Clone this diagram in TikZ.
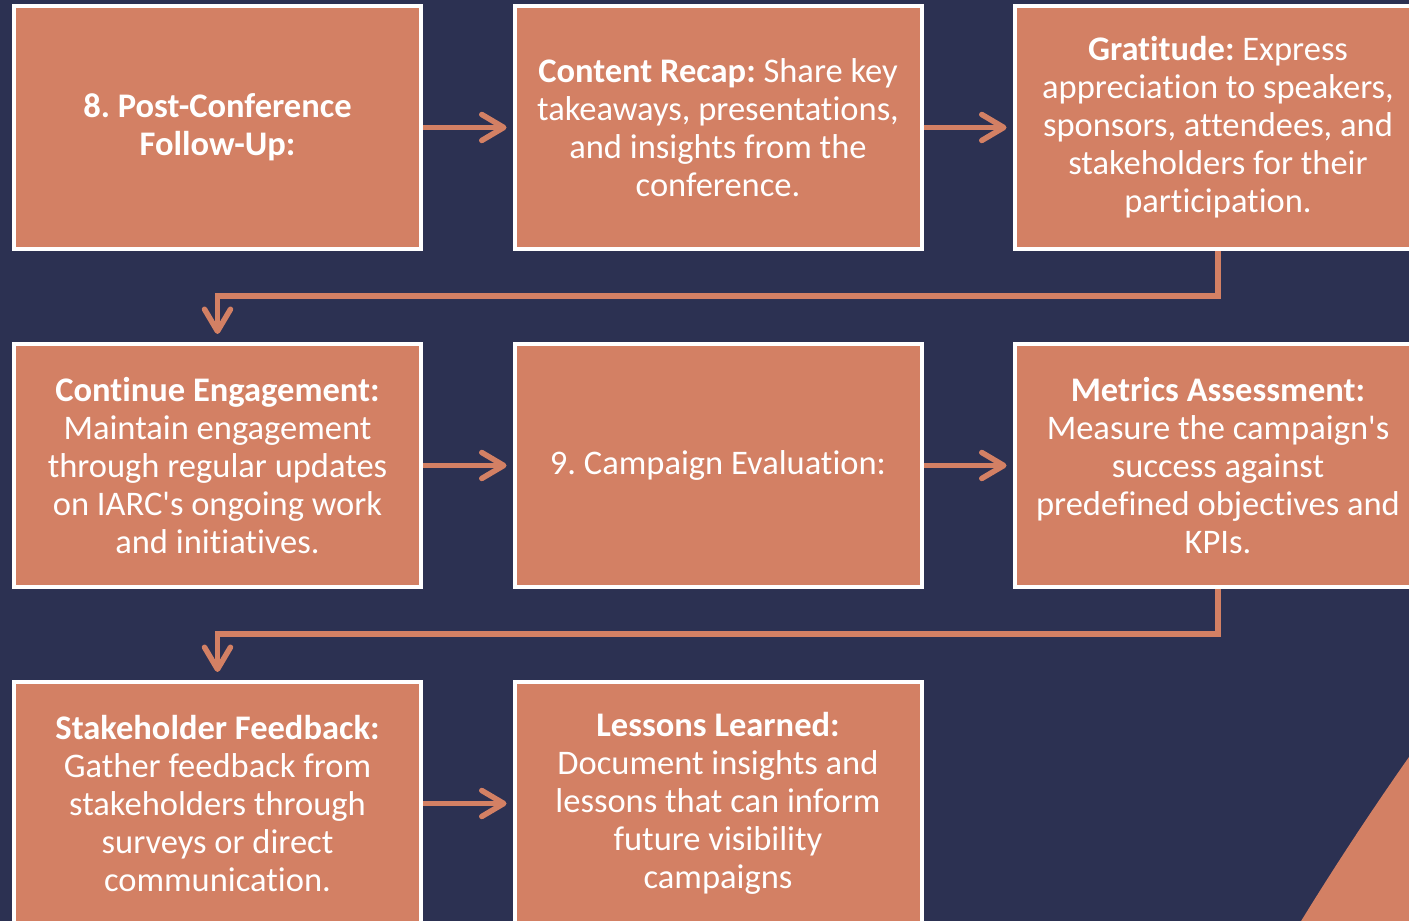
\documentclass[tikz,border=0pt]{standalone}
\usepackage{fontspec}
\defaultfontfeatures[\rmfamily]{}
\setmainfont{Carlito}[RawFeature={-liga;-clig;-rlig;-dlig;-calt;-ccmp}]
\usepackage{tikz}
\usetikzlibrary{arrows.meta,%
                shapes,positioning}
\frenchspacing
\definecolor{navy}{HTML}{2C3152}
\definecolor{clay}{HTML}{D38064}
\tikzstyle{stepbox}=[rectangle,draw=white,line width=4bp,fill=clay,text=white,
  minimum width=407bp,minimum height=243bp,align=center,
  font=\fontsize{34.5bp}{38bp}\selectfont]
\tikzstyle{link}=[draw=clay,line width=5.5bp,
  -{Straight Barb[length=22bp,width=26bp,round]}]

\begin{document}
\begin{tikzpicture}[line join=miter]
	  \useasboundingbox (0bp,0bp) rectangle (1409bp,921bp);
	  \fill [navy] (0bp,0bp) rectangle (1409bp,921bp);
	  \begin{scope}
	    \clip (0bp,0bp) rectangle (1409bp,921bp);
	    \fill [clay] (4060bp,-1694bp) circle (3237bp);
	  \end{scope}
	  % first row
	  \node (F) at (217.5bp,793.5bp) [stepbox] {\textbf{8. Post-Conference}\\\textbf{Follow-Up:}};
	  \node (R) at (718bp,793.5bp) [stepbox] {\textbf{Content Recap:} Share key\\takeaways, presentations,\\and insights from the\\conference.};
	  \node (G) at (1218bp,793.5bp) [stepbox] {\textbf{Gratitude:} Express\\appreciation to speakers,\\sponsors, attendees, and\\stakeholders for their\\participation.};
	  % second row
	  \node (C) at (217.5bp,455.5bp) [stepbox] {\textbf{Continue Engagement:}\\Maintain engagement\\through regular updates\\on IARC's ongoing work\\and initiatives.};
	  \node (E) at (718bp,455.5bp) [stepbox] {9. Campaign Evaluation:};
	  \node (M) at (1218bp,455.5bp) [stepbox] {\textbf{Metrics Assessment:}\\Measure the campaign's\\success against\\predefined objectives and\\KPIs.};
	  % third row
	  \node (S) at (217.5bp,117.5bp) [stepbox] {\textbf{Stakeholder Feedback:}\\Gather feedback from\\stakeholders through\\surveys or direct\\communication.};
	  \node (L) at (718bp,117.5bp) [stepbox] {\textbf{Lessons Learned:}\\Document insights and\\lessons that can inform\\future visibility\\campaigns};
	  \coordinate (turnG) at (1218bp,625bp);
	  \coordinate (turnM) at (1218bp,287bp);
	  \draw [link,shorten >=6bp] (F) -- (R);
	  \draw [link,shorten >=6bp] (R) -- (G);
	  \draw [link,shorten >=8bp] (G) -- (turnG) -| (C);
	  \draw [link,shorten >=6bp] (C) -- (E);
	  \draw [link,shorten >=6bp] (E) -- (M);
	  \draw [link,shorten >=8bp] (M) -- (turnM) -| (S);
	  \draw [link,shorten >=6bp] (S) -- (L);
    %
    \end{tikzpicture}
\end{document}
